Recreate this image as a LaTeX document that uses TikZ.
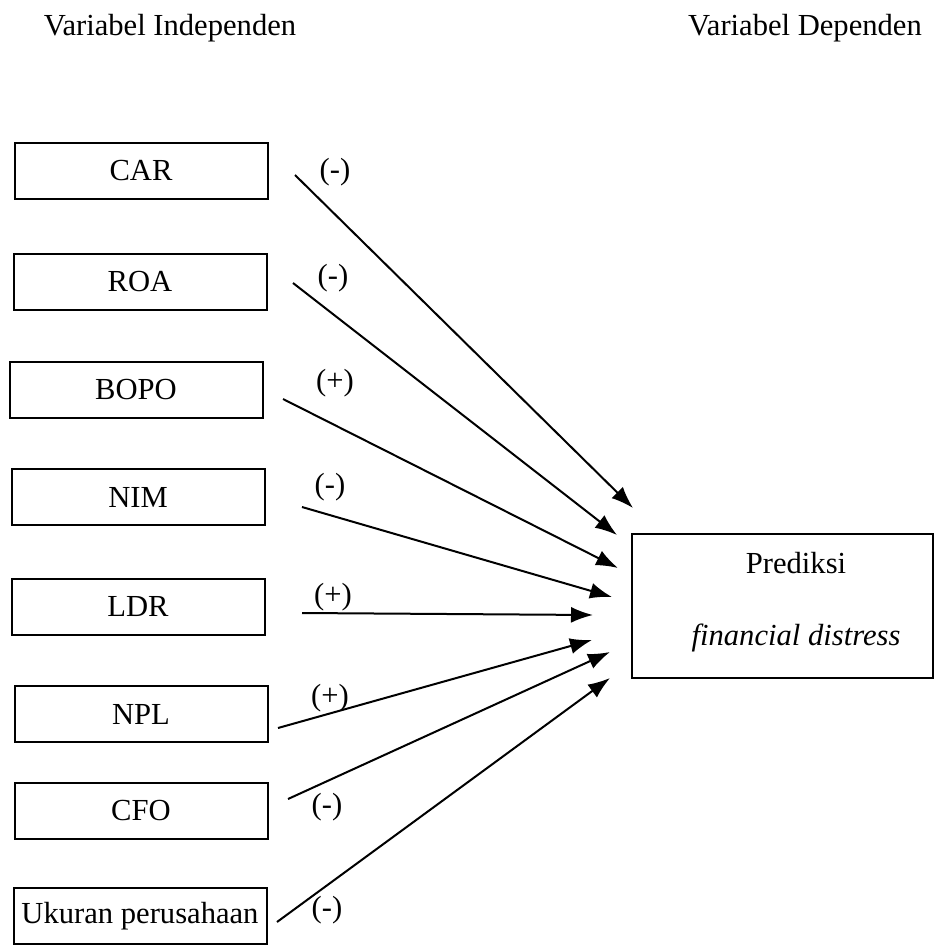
\documentclass[tikz,border=0pt]{standalone}
\usepackage{fontspec}
\setmainfont{Liberation Serif}
\usetikzlibrary{arrows.meta}
\begin{document}
\begin{tikzpicture}[x=0.5pt,y=-0.5pt,
  every node/.style={font=\fontsize{15.3}{18}\selectfont, inner sep=0pt},
  varbox/.style={draw, line width=1pt, minimum width=126.5pt, minimum height=28pt},
  bigbox/.style={draw, line width=1pt, minimum width=150.5pt, minimum height=72pt},
  arr/.style={line width=1pt, -{Latex[length=11pt,width=8pt]}},
  sign/.style={}]
\useasboundingbox (0,0) rectangle (935,946);
\node (ti) at (170,28) {Variabel Independen};
\node (td) at (805,28) {Variabel Dependen};

\node[varbox] (car) at (141,171) {CAR};
\node[varbox] (roa) at (140,282) {ROA};
\node[varbox] (bopo) at (136,390) {BOPO};
\node[varbox] (nim) at (138,497) {NIM};
\node[varbox] (ldr) at (138,607) {LDR};
\node[varbox] (npl) at (141,714) {NPL};
\node[varbox] (cfo) at (141,811) {CFO};
\node[varbox] (uk) at (140,916) {Ukuran perusahaan};

\node[bigbox] (pred) at (782.5,606) {};
\node (p1) at (796,563) {Prediksi};
\node (p2) at (796,638) {\itshape financial distress};

\coordinate (s1) at (295,175); \coordinate (e1) at (633,508);
\coordinate (s2) at (293,283); \coordinate (e2) at (617,535);
\coordinate (s3) at (283,399); \coordinate (e3) at (618,568);
\coordinate (s4) at (302,507); \coordinate (e4) at (612,597);
\coordinate (s5) at (302,613); \coordinate (e5) at (593,615);
\coordinate (s6) at (278,728); \coordinate (e6) at (592,640);
\coordinate (s7) at (288,799); \coordinate (e7) at (610,652);
\coordinate (s8) at (277,922); \coordinate (e8) at (610,678);
\foreach \i in {1,...,8} { \draw[arr] (s\i) -- (e\i); }

\node[sign] (l1) at (335,172) {(-)};
\node[sign] (l2) at (333,278) {(-)};
\node[sign] (l3) at (335,383) {(+)};
\node[sign] (l4) at (330,487) {(-)};
\node[sign] (l5) at (333,597) {(+)};
\node[sign] (l6) at (330,698) {(+)};
\node[sign] (l7) at (327,807) {(-)};
\node[sign] (l8) at (327,910) {(-)};
\end{tikzpicture}
\end{document}
